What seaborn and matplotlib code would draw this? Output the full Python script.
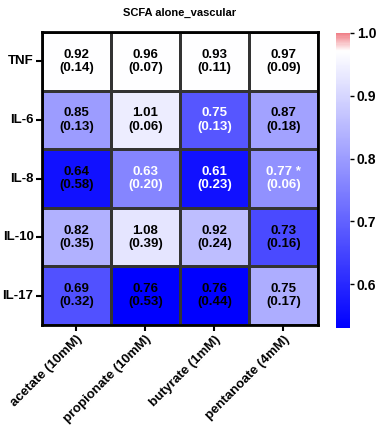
import numpy as np
import pandas as pd
import matplotlib.pyplot as plt
import seaborn as sns
from matplotlib.colors import LinearSegmentedColormap

# rows / columns of the heatmap
citocinas = ['TNF', 'IL-6', 'IL-8', 'IL-10', 'IL-17']
tratamentos = ['acetate (10mM)', 'propionate (10mM)', 'butyrate (1mM)', 'pentanoate (4mM)']

# mean values and (sd) printed in the cells
medias = [['0.92', '0.96', '0.93', '0.97'],
          ['0.85', '1.01', '0.75', '0.87'],
          ['0.64', '0.63', '0.61', '0.77 *'],
          ['0.82', '1.08', '0.92', '0.73'],
          ['0.69', '0.76', '0.76', '0.75']]
desvios = [['0.14', '0.07', '0.11', '0.09'],
           ['0.13', '0.06', '0.13', '0.18'],
           ['0.58', '0.20', '0.23', '0.06'],
           ['0.35', '0.39', '0.24', '0.16'],
           ['0.32', '0.53', '0.44', '0.17']]

# value used for the colour of each cell
cor_vals = [[0.97, 0.97, 0.97, 0.97],
            [0.80, 0.94, 0.68, 0.81],
            [0.56, 0.76, 0.56, 0.78],
            [0.835, 0.925, 0.86, 0.66],
            [0.67, 0.53, 0.53, 0.83]]

# cells where the text is white
texto_branco = [[0, 0, 0, 0],
                [0, 0, 1, 0],
                [0, 1, 1, 1],
                [0, 0, 0, 0],
                [0, 0, 0, 0]]

plt.rcParams['font.family'] = ['Liberation Sans', 'DejaVu Sans']
plt.rcParams['font.weight'] = 'bold'

df = pd.DataFrame(cor_vals, index=citocinas, columns=tratamentos)

cmap = LinearSegmentedColormap.from_list(
    'azul_branco_vermelho',
    [(0.0, '#0000ff'), (0.94, '#ffffff'), (1.0, '#f08088')])

fig = plt.figure(figsize=(3.78, 4.34), dpi=100)
ax = fig.add_axes([0.111, 0.251, 0.730, 0.675])
cax = fig.add_axes([0.889, 0.244, 0.037, 0.680])

sns.heatmap(df, ax=ax, cbar_ax=cax, cmap=cmap, vmin=0.53, vmax=1.0,
            linewidths=0.8, linecolor='#333333')

for i in range(len(citocinas)):
    for j in range(len(tratamentos)):
        cor = 'white' if texto_branco[i][j] else 'black'
        ax.text(j + 0.5, i + 0.5, f'{medias[i][j]}\n({desvios[i][j]})',
                ha='center', va='center', fontsize=9.5, fontweight='bold',
                color=cor, linespacing=1.15)

for lado in ['left', 'right', 'top', 'bottom']:
    ax.spines[lado].set_visible(True)
    ax.spines[lado].set_linewidth(2)
    ax.spines[lado].set_color('black')

ax.set_xlabel('')
ax.set_ylabel('')
ax.tick_params(axis='both', length=4, width=1.5, color='black', pad=2)
ax.set_yticklabels(citocinas, rotation=0, fontsize=9.5, fontweight='bold')
ax.set_xticklabels(tratamentos, rotation=45, ha='right', rotation_mode='anchor',
                   fontsize=9.5, fontweight='bold')
ax.set_title('SCFA alone_vascular', fontsize=8, fontweight='bold', pad=12)

cb = ax.collections[0].colorbar
cb.set_ticks([0.6, 0.7, 0.8, 0.9, 1.0])
cb.set_ticklabels(['0.6', '0.7', '0.8', '0.9', '1.0'])
cb.outline.set_visible(False)
cax.tick_params(length=3, width=1, labelsize=10, pad=2)
for t in cax.get_yticklabels():
    t.set_fontweight('bold')

plt.savefig('out.png', dpi=100)
plt.close()
